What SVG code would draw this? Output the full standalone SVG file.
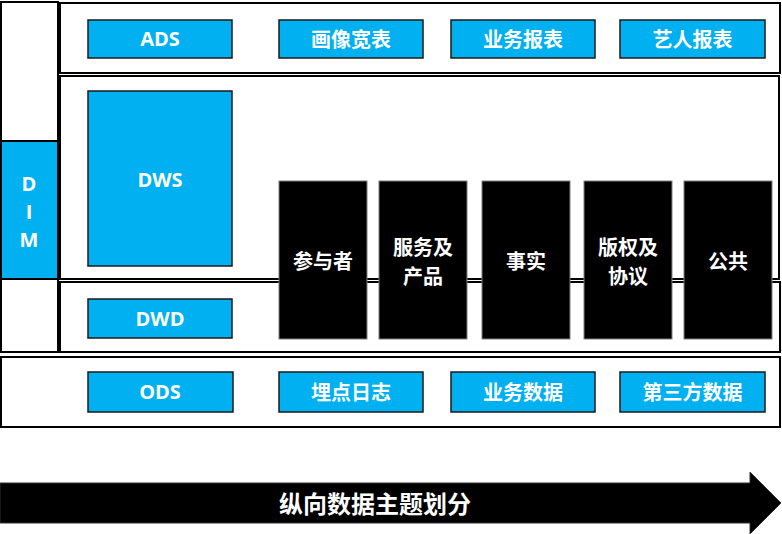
<svg xmlns="http://www.w3.org/2000/svg" width="782" height="534" viewBox="0 0 782 534">
<style>
.row{fill:#fff;stroke:#000;stroke-width:2}
.cy{fill:#00B0F0;stroke:#1a1a1a;stroke-width:1.5}
.bk{fill:#000;stroke:#7f7f7f;stroke-width:1}
.t{font-family:"Noto Sans CJK SC","Open Sans",sans-serif;font-weight:bold;font-size:20px;fill:#fff;text-anchor:middle;dominant-baseline:central}
.l{font-family:"Open Sans","Noto Sans CJK SC",sans-serif;font-size:20px}
</style>
<rect width="782" height="534" fill="#fff"/>
<g id="layers">
<rect class="row" x="1" y="2" width="57" height="350"/>
<rect x="1" y="141" width="57" height="138" fill="#00B0F0" stroke="#000" stroke-width="2"/>
<rect class="row" x="60" y="3" width="720" height="70"/>
<rect class="row" x="60" y="76" width="719" height="203"/>
<rect class="row" x="60" y="282" width="720" height="70"/>
<rect class="row" x="1" y="357" width="779" height="70"/>
</g>
<g id="dim"><text class="t l" x="29" y="183">D</text><text class="t l" x="29" y="211">I</text><text class="t l" x="29" y="239">M</text></g>
<g id="ads"><rect class="cy" x="88" y="20" width="144" height="38"/><text class="t l" x="160" y="38.5">ADS</text></g>
<g id="huaxiang"><rect class="cy" x="279" y="20" width="144" height="38"/><text class="t" x="351" y="38.5">画像宽表</text></g>
<g id="yewubaobiao"><rect class="cy" x="451" y="20" width="144" height="38"/><text class="t" x="523" y="38.5">业务报表</text></g>
<g id="yiren"><rect class="cy" x="620" y="20" width="145" height="38"/><text class="t" x="692.5" y="38.5">艺人报表</text></g>
<g id="dws"><rect class="cy" x="88" y="91" width="144" height="175"/><text class="t l" x="160" y="179">DWS</text></g>
<g id="dwd"><rect class="cy" x="88" y="299" width="144" height="39"/><text class="t l" x="160" y="318">DWD</text></g>
<g id="ods"><rect class="cy" x="88" y="372" width="145" height="40"/><text class="t l" x="160" y="391">ODS</text></g>
<g id="maidian"><rect class="cy" x="279" y="372" width="144" height="40"/><text class="t" x="351" y="391">埋点日志</text></g>
<g id="yewushuju"><rect class="cy" x="451" y="372" width="144" height="40"/><text class="t" x="523" y="391">业务数据</text></g>
<g id="disanfang"><rect class="cy" x="620" y="372" width="145" height="40"/><text class="t" x="692.5" y="391">第三方数据</text></g>
<g id="canyuzhe"><rect class="bk" x="279" y="181" width="88" height="158"/><text class="t" x="323" y="260">参与者</text></g>
<g id="fuwu"><rect class="bk" x="379" y="181" width="88" height="158"/><text class="t" x="423" y="246">服务及</text><text class="t" x="423" y="275">产品</text></g>
<g id="shishi"><rect class="bk" x="482" y="181" width="88" height="158"/><text class="t" x="526" y="260">事实</text></g>
<g id="banquan"><rect class="bk" x="584" y="181" width="88" height="158"/><text class="t" x="628" y="246">版权及</text><text class="t" x="628" y="275">协议</text></g>
<g id="gonggong"><rect class="bk" x="684" y="181" width="88" height="158"/><text class="t" x="728" y="260">公共</text></g>
<g id="arrow"><polygon points="0,483 750,483 750,472 781,503 750,534 750,523 0,523" fill="#000" stroke="#333" stroke-width="1"/><text class="t" x="375" y="502" style="font-size:24px">纵向数据主题划分</text></g>
</svg>
